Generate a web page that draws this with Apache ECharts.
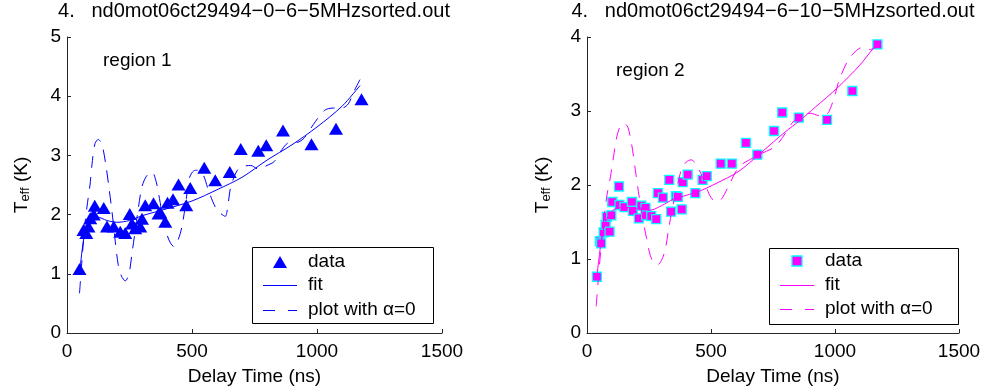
<!DOCTYPE html>
<html>
<head>
<meta charset="utf-8">
<script src="https://cdn.jsdelivr.net/npm/echarts@6/dist/echarts.min.js"></script>
<style>
  html, body { margin: 0; padding: 0; background: #fff; }
  #chart { width: 986px; height: 392px; }
</style>
</head>
<body>
<div id="chart"></div>
<script>
// ---------- data ----------
const titleLeft = '4.   nd0mot06ct29494\u22120\u22126\u22125MHzsorted.out';
const titleRight = '4.   nd0mot06ct29494\u22126\u221210\u22125MHzsorted.out';
const xTicks = [0, 500, 1000, 1500];
const legendNames = ['data', 'fit', 'plot with \u03b1=0'];

// region 1 (triangles)
const leftDelay = [50,66,77,86,93,107,111,147,160,187,213,233,251,260,273,293,300,313,346,366,373,393,402,424,446,477,493,549,593,651,695,765,797,864,978,1076,1178];
const leftTeff  = [1.08,1.74,1.69,1.80,1.94,2.0,2.15,2.11,1.80,1.80,1.71,1.69,2.01,1.85,1.77,1.80,1.93,2.16,2.19,2.02,2.04,1.88,2.20,2.26,2.51,2.16,2.45,2.79,2.58,2.72,3.11,3.08,3.17,3.42,3.19,3.45,3.95];
const leftFitDelay = [50,55,62,70,80,95,120,160,200,250,300,400,500,600,700,800,900,1000,1100,1172];
const leftFitT     = [1.02,1.2,1.45,1.66,1.82,1.93,1.96,1.9,1.87,1.9,1.98,2.1,2.23,2.42,2.63,2.92,3.18,3.48,3.83,4.18];
const leftDashDelay = [50,55,62,72,82,92,100,112,125,140,155,168,180,193,205,218,233,248,260,272,285,300,318,340,357,370,385,400,415,428,445,460,475,490,507,525,546,565,593,615,633,645,655,680,700,735,765,800,830,860,890,920,950,985,1030,1065,1100,1125,1150,1172];
const leftDashT     = [0.67,0.95,1.35,1.85,2.2,2.5,2.85,3.2,3.27,3.18,2.85,2.45,2.05,1.55,1.15,0.96,0.88,1.0,1.35,1.7,2.1,2.47,2.65,2.72,2.55,2.27,1.9,1.66,1.51,1.46,1.58,1.8,2.2,2.62,2.74,2.75,2.66,2.42,2.13,2.02,1.97,2.2,2.47,2.74,2.81,2.83,2.77,2.83,2.9,3.1,3.22,3.22,3.3,3.52,3.76,3.8,3.8,3.87,4.1,4.28];

// region 2 (squares)
const rightDelay = [40,52,57,67,75,80,91,98,102,129,131,151,181,185,209,219,236,239,259,279,286,306,332,339,359,366,382,386,406,437,466,483,539,584,641,687,754,787,854,968,1070,1171];
const rightTeff  = [0.76,1.24,1.21,1.36,1.46,1.57,1.37,1.59,1.77,1.98,1.73,1.70,1.77,1.65,1.55,1.72,1.69,1.59,1.58,1.54,1.89,1.83,2.07,1.64,1.85,1.84,1.67,2.04,2.14,1.89,2.07,2.12,2.29,2.29,2.57,2.41,2.73,2.98,2.91,2.88,3.27,3.90];
const rightFitDelay = [38,48,58,72,90,110,150,200,255,300,350,400,456,520,610,700,751,800,858,920,1012,1100,1153,1172];
const rightFitT     = [0.72,1.0,1.25,1.47,1.6,1.67,1.7,1.68,1.66,1.72,1.81,1.86,1.92,2.02,2.18,2.43,2.58,2.72,2.87,3.05,3.32,3.62,3.84,3.9];
const rightDashDelay = [37,45,55,65,80,95,107,120,135,150,165,180,195,210,225,240,255,270,285,300,315,330,345,362,380,400,420,440,460,480,500,520,540,570,600,625,650,700,750,775,800,830,860,900,935,965,995,1015,1050,1075,1110,1140,1165];
const rightDashT     = [0.36,0.7,1.1,1.45,1.85,2.12,2.38,2.65,2.8,2.83,2.78,2.55,2.2,1.85,1.55,1.28,1.05,0.95,0.92,0.98,1.12,1.42,1.7,1.95,2.2,2.31,2.34,2.28,2.15,1.98,1.83,1.78,1.8,1.98,2.18,2.28,2.33,2.42,2.5,2.58,2.7,2.85,2.93,2.97,2.94,2.95,3.16,3.4,3.67,3.78,3.86,3.83,3.86];

// ---------- chart ----------
const zip = (xs, ys) => xs.map((x, i) => [x, ys[i]]);
const FONT = 'Liberation Sans, Arial, Helvetica, sans-serif';
const TXT = '#000';
const AX = '#262626';
const BLUE = '#0000ff';
const MAG = '#ff00ff';
const CYAN = '#00ffff';
const DASH = [12, 9];

function xAxisCfg(idx) {
  return {
    type: 'value', gridIndex: idx, min: 0, max: 1500, interval: 500,
    name: 'Delay Time (ns)', nameLocation: 'middle', nameGap: 34,
    nameTextStyle: { fontSize: 19, color: TXT, fontFamily: FONT },
    axisLine: { show: true, onZero: false, lineStyle: { color: AX, width: 1 } },
    axisTick: { show: true, inside: true, length: 4, lineStyle: { color: AX } },
    axisLabel: { fontSize: 19, color: TXT, margin: 9, fontFamily: FONT,
      formatter: v => (xTicks.indexOf(v) >= 0 ? String(v) : '') },
    splitLine: { show: false }
  };
}
function yAxisCfg(idx, max, gap) {
  return {
    type: 'value', gridIndex: idx, min: 0, max: max, interval: 1,
    name: '{t|T}{s|eff}{n| (K)}', nameLocation: 'middle', nameRotate: 90, nameGap: gap,
    nameTextStyle: {
      color: TXT, fontFamily: FONT, fontSize: 19,
      rich: {
        t: { fontSize: 19, color: TXT, fontFamily: FONT, lineHeight: 20, verticalAlign: 'top' },
        s: { fontSize: 13, color: TXT, fontFamily: FONT, lineHeight: 20, verticalAlign: 'top', padding: [7, 0, 0, 0] },
        n: { fontSize: 19, color: TXT, fontFamily: FONT, lineHeight: 20, verticalAlign: 'top' }
      }
    },
    axisLine: { show: true, onZero: false, lineStyle: { color: AX, width: 1 } },
    axisTick: { show: true, inside: true, length: 4, lineStyle: { color: AX } },
    axisLabel: { fontSize: 19, color: TXT, margin: 6, fontFamily: FONT },
    splitLine: { show: false }
  };
}

// legend box drawn as graphic elements
function legendGraphic(box, color, marker) {
  const els = [];
  els.push({ type: 'rect', z: 100, shape: { x: box.x + 0.5, y: box.y + 0.5, width: box.w, height: box.h },
    style: { fill: '#fff', stroke: '#000', lineWidth: 1 } });
  const rows = box.rows;
  const cx = (box.lx1 + box.lx2) / 2;
  if (marker === 'triangle') {
    els.push({ type: 'polygon', z: 101, shape: { points: [[cx, rows[0] - 6], [cx + 7, rows[0] + 6], [cx - 7, rows[0] + 6]] },
      style: { fill: color } });
  } else {
    els.push({ type: 'rect', z: 101, shape: { x: cx - 5, y: rows[0] - 5, width: 10, height: 10 },
      style: { fill: color, stroke: CYAN, lineWidth: 1.3 } });
  }
  els.push({ type: 'line', z: 101, shape: { x1: box.lx1, y1: rows[1] + 0.5, x2: box.lx2, y2: rows[1] + 0.5 },
    style: { stroke: color, lineWidth: 1 } });
  els.push({ type: 'line', z: 101, shape: { x1: box.lx1, y1: rows[2] + 0.5, x2: box.lx2, y2: rows[2] + 0.5 },
    style: { stroke: color, lineWidth: 1, lineDash: [12, 13] } });
  legendNames.forEach((t, i) => {
    els.push({ type: 'text', z: 101, x: box.tx, y: rows[i],
      style: { text: t, fill: TXT, font: '19px ' + FONT, align: 'left', verticalAlign: 'middle' } });
  });
  return els;
}

const chart = echarts.init(document.getElementById('chart'), null, { renderer: 'canvas' });
chart.setOption({
  animation: false,
  backgroundColor: '#fff',
  textStyle: { fontFamily: FONT },
  grid: [
    { left: 67, top: 37, width: 375, height: 296 },
    { left: 587, top: 37, width: 372, height: 296 }
  ],
  xAxis: [xAxisCfg(0), xAxisCfg(1)],
  yAxis: [yAxisCfg(0, 5, 35), yAxisCfg(1, 4, 34)],
  graphic: [
    { type: 'text', x: 254, y: 11, style: { text: titleLeft, fill: TXT, font: '20px ' + FONT, align: 'center', verticalAlign: 'middle' } },
    { type: 'text', x: 773, y: 11, style: { text: titleRight, fill: TXT, font: '20px ' + FONT, align: 'center', verticalAlign: 'middle' } },
    { type: 'text', x: 103, y: 61, style: { text: 'region 1', fill: TXT, font: '19px ' + FONT, align: 'left', verticalAlign: 'middle' } },
    { type: 'text', x: 616, y: 71, style: { text: 'region 2', fill: TXT, font: '19px ' + FONT, align: 'left', verticalAlign: 'middle' } }
  ].concat(
    legendGraphic({ x: 252, y: 247, w: 181, h: 76, rows: [262, 285, 310], lx1: 263, lx2: 297, tx: 308 }, BLUE, 'triangle'),
    legendGraphic({ x: 769, y: 248, w: 189, h: 76, rows: [261, 285, 309], lx1: 780, lx2: 814, tx: 825 }, MAG, 'square')
  ),
  series: [
    { name: 'data (region 1)', type: 'scatter', xAxisIndex: 0, yAxisIndex: 0, symbol: 'triangle', symbolSize: [14, 12],
      itemStyle: { color: BLUE, opacity: 1 }, data: zip(leftDelay, leftTeff), z: 2 },
    { name: 'fit (region 1)', type: 'line', xAxisIndex: 0, yAxisIndex: 0, symbol: 'none', smooth: 0.3,
      lineStyle: { color: BLUE, width: 1 }, data: zip(leftFitDelay, leftFitT), z: 3 },
    { name: 'alpha=0 (region 1)', type: 'line', xAxisIndex: 0, yAxisIndex: 0, symbol: 'none', smooth: 0.3,
      lineStyle: { color: BLUE, width: 1, type: DASH }, data: zip(leftDashDelay, leftDashT), z: 3 },
    { name: 'data (region 2)', type: 'scatter', xAxisIndex: 1, yAxisIndex: 1, symbol: 'rect', symbolSize: 9,
      itemStyle: { color: MAG, borderColor: CYAN, borderWidth: 1.3, opacity: 1 }, data: zip(rightDelay, rightTeff), z: 2 },
    { name: 'fit (region 2)', type: 'line', xAxisIndex: 1, yAxisIndex: 1, symbol: 'none', smooth: 0.3,
      lineStyle: { color: MAG, width: 1 }, data: zip(rightFitDelay, rightFitT), z: 3 },
    { name: 'alpha=0 (region 2)', type: 'line', xAxisIndex: 1, yAxisIndex: 1, symbol: 'none', smooth: 0.3,
      lineStyle: { color: MAG, width: 1, type: DASH }, data: zip(rightDashDelay, rightDashT), z: 3 }
  ]
});
</script>
</body>
</html>
